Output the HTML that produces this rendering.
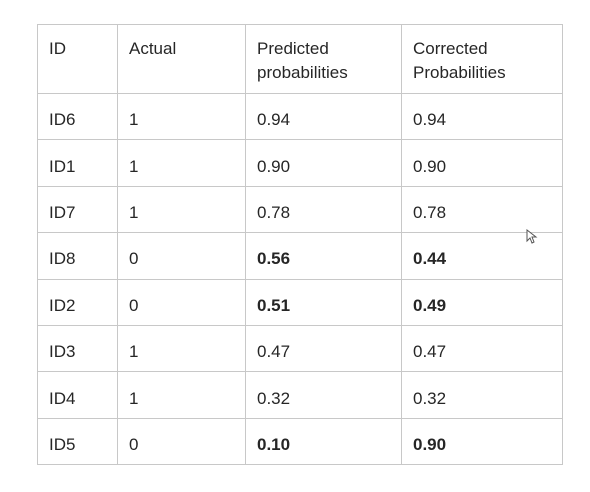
<!DOCTYPE html>
<html><head><meta charset="utf-8"><style>
body{margin:0;width:590px;height:492px;background:#fff;font-family:"Liberation Sans",sans-serif;color:#262626;position:relative;overflow:hidden}
.t{position:absolute;left:37px;top:24px;border-collapse:collapse;table-layout:fixed}
.t td{border:1.5px solid #c8c8c8;padding:7px 0 0 11px;font-size:17px;line-height:24px;height:46.4px;box-sizing:border-box;vertical-align:middle}
.t tr.h td{height:69px;vertical-align:top;padding-top:12px}
b{font-weight:bold}
</style></head><body>
<table class="t">
<colgroup><col style="width:80px"><col style="width:128px"><col style="width:156px"><col style="width:161px"></colgroup>
<tr class="h"><td>ID</td><td>Actual</td><td>Predicted<br>probabilities</td><td>Corrected<br>Probabilities</td></tr>
<tr><td>ID6</td><td>1</td><td>0.94</td><td>0.94</td></tr>
<tr><td>ID1</td><td>1</td><td>0.90</td><td>0.90</td></tr>
<tr><td>ID7</td><td>1</td><td>0.78</td><td>0.78</td></tr>
<tr><td>ID8</td><td>0</td><td><b>0.56</b></td><td><b>0.44</b></td></tr>
<tr><td>ID2</td><td>0</td><td><b>0.51</b></td><td><b>0.49</b></td></tr>
<tr><td>ID3</td><td>1</td><td>0.47</td><td>0.47</td></tr>
<tr><td>ID4</td><td>1</td><td>0.32</td><td>0.32</td></tr>
<tr><td>ID5</td><td>0</td><td><b>0.10</b></td><td><b>0.90</b></td></tr>
</table>
<svg style="position:absolute;left:526px;top:229px" width="12" height="16"><path d="M1 1 L1 12 L4 9 L6 14 L8 13 L6 8 L10 8 Z" fill="#fff" stroke="#555" stroke-width="1"/></svg>
</body></html>
